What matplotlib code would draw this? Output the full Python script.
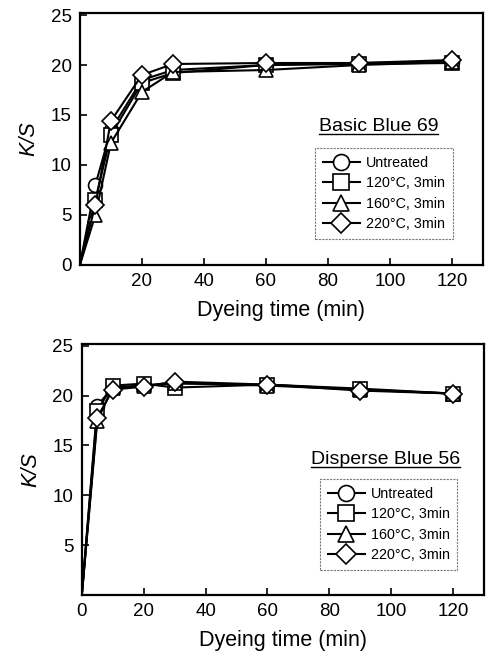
import numpy as np
import matplotlib
matplotlib.use("Agg")
import matplotlib.pyplot as plt
from matplotlib.lines import Line2D

plt.rcParams['font.family'] = ['Liberation Sans', 'DejaVu Sans']

# dyeing time (min)
time = [0, 5, 10, 20, 30, 60, 90, 120]
labels = ['Untreated', '120\u00b0C, 3min', '160\u00b0C, 3min', '220\u00b0C, 3min']
markers = ['o', 's', '^', 'D']

# Basic Blue 69
bb_untreated = [0, 8.0, 13.5, 18.5, 19.5, 20.0, 20.2, 20.3]
bb_120 = [0, 6.5, 13.0, 18.2, 19.2, 20.0, 20.1, 20.2]
bb_160 = [0, 5.0, 12.2, 17.3, 19.3, 19.5, 20.0, 20.3]
bb_220 = [0, 6.0, 14.4, 19.0, 20.1, 20.2, 20.2, 20.5]

# Disperse Blue 56
db_untreated = [0, 19.0, 20.8, 21.0, 21.2, 21.1, 20.6, 20.2]
db_120 = [0, 18.5, 21.0, 21.2, 20.8, 21.1, 20.7, 20.2]
db_160 = [0, 17.5, 20.8, 21.0, 21.3, 21.0, 20.6, 20.2]
db_220 = [0, 17.8, 20.6, 20.9, 21.4, 21.1, 20.5, 20.2]

titles = []


def panel(fig, rect, series, title, title_xy, leg_box, xticks, yticks):
	ax = fig.add_axes(rect)
	for y, lab, m in zip(series, labels, markers):
		ms = 9 if m == 'D' else 10
		ax.plot(time, y, color='black', lw=1.5, marker=m, ms=ms,
				mfc='white', mec='black', mew=1.2, label=lab,
				markevery=slice(1, None))
	ax.set_xlim(0, 130)
	ax.set_ylim(0, 25.2)
	ax.set_xticks(xticks)
	ax.set_yticks(yticks)
	ax.tick_params(direction='in', length=5, width=1.2, labelsize=13.5, pad=6)
	for s in ax.spines.values():
		s.set_linewidth(1.6)
	ax.set_xlabel('Dyeing time (min)', fontsize=15.5, labelpad=7)
	ax.set_ylabel('K/S', fontsize=15.5, style='italic', labelpad=8)
	t = ax.text(title_xy[0], title_xy[1], title, transform=ax.transAxes,
				ha='center', va='center', fontsize=14)
	titles.append(t)
	leg = ax.legend(loc='lower left', bbox_to_anchor=leg_box, mode='expand',
					fontsize=10.3, frameon=True, fancybox=False, handlelength=2.6,
					borderpad=0.55, labelspacing=0.45, handletextpad=0.4,
					markerscale=1.15, borderaxespad=0)
	leg.get_frame().set_edgecolor('0.35')
	leg.get_frame().set_linewidth(0.8)
	leg.get_frame().set_linestyle((0, (2, 1)))
	return ax


fig = plt.figure(figsize=(4.87, 6.51), dpi=100)
panel(fig, [0.164, 0.593, 0.828, 0.387],
	  [bb_untreated, bb_120, bb_160, bb_220], 'Basic Blue 69', (0.74, 0.55),
	  (0.583, 0.103, 0.343, 0.373), [20, 40, 60, 80, 100, 120], [0, 5, 10, 15, 20, 25])
panel(fig, [0.168, 0.086, 0.826, 0.386],
	  [db_untreated, db_120, db_160, db_220], 'Disperse Blue 56', (0.754, 0.54),
	  (0.592, 0.10, 0.341, 0.366), [0, 20, 40, 60, 80, 100, 120], [5, 10, 15, 20, 25])

# underline the dye names
fig.canvas.draw()
r = fig.canvas.get_renderer()
for t in titles:
	bb = t.get_window_extent(r).transformed(fig.transFigure.inverted())
	fig.add_artist(Line2D([bb.x0, bb.x1], [bb.y0 + 0.001, bb.y0 + 0.001],
						  transform=fig.transFigure, color='black', lw=1.0))

fig.savefig('out.png', dpi=100)
